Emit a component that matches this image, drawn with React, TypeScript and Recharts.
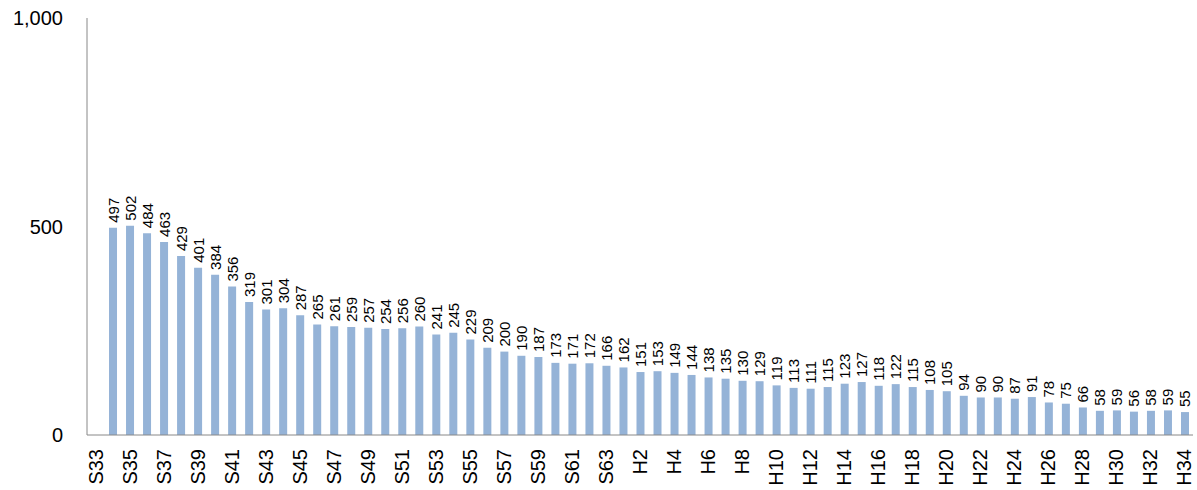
import { Bar, BarChart, LabelList, XAxis, YAxis } from "recharts";

const categories: string[] = [
  ...Array.from({ length: 31 }, (_, i) => `S${33 + i}`),
  ...Array.from({ length: 34 }, (_, i) => `H${1 + i}`),
];

const values: (number | null)[] = [
  null, 497, 502, 484, 463, 429, 401, 384, 356, 319, 301,
  304, 287, 265, 261, 259, 257, 254, 256, 260, 241,
  245, 229, 209, 200, 190, 187, 173, 171, 172, 166,
  162, 151, 153, 149, 144, 138, 135, 130, 129, 119,
  113, 111, 115, 123, 127, 118, 122, 115, 108, 105,
  94, 90, 90, 87, 91, 78, 75, 66, 58, 59,
  56, 58, 59, 55,
];

const yTicks = [0, 500, 1000];

const data = categories.map((name, i) => ({ name, value: values[i] }));

const font = "'Liberation Sans', Arial, sans-serif";

const XTick = (props: any) => {
  const { x, y, payload } = props;
  return (
    <text
      x={x}
      y={y + 6}
      transform={`rotate(-90, ${x}, ${y + 6})`}
      textAnchor="end"
      dominantBaseline="central"
      fontSize={20}
      fontFamily={font}
      fill="#000"
    >
      {payload.value}
    </text>
  );
};

const ValueLabel = (props: any) => {
  const { x, y, width, value } = props;
  if (value == null) return null;
  const cx = x + width / 2;
  const cy = y - 5;
  return (
    <text
      x={cx}
      y={cy}
      transform={`rotate(-90, ${cx}, ${cy})`}
      textAnchor="start"
      dominantBaseline="central"
      fontSize={15}
      fontFamily={font}
      fill="#000"
    >
      {value}
    </text>
  );
};

export default function App() {
  return (
    <div style={{ position: "absolute", left: 0, top: 0 }}>
      <BarChart
        width={1197}
        height={490}
        data={data}
        margin={{ top: 18, right: 4, bottom: 0, left: 0 }}
        barSize={8}
      >
        <XAxis
          dataKey="name"
          interval={1}
          tick={<XTick />}
          tickLine={false}
          height={55}
          stroke="#888"
        />
        <YAxis
          domain={[0, 1000]}
          ticks={yTicks}
          width={87}
          tickLine={false}
          stroke="#888"
          tickFormatter={(v: number) => v.toLocaleString("en-US")}
          tick={{ fontSize: 20, fill: "#000", fontFamily: font }}
          tickMargin={18}
        />
        <Bar dataKey="value" fill="#95b3d7" isAnimationActive={false}>
          <LabelList dataKey="value" content={<ValueLabel />} />
        </Bar>
      </BarChart>
    </div>
  );
}
